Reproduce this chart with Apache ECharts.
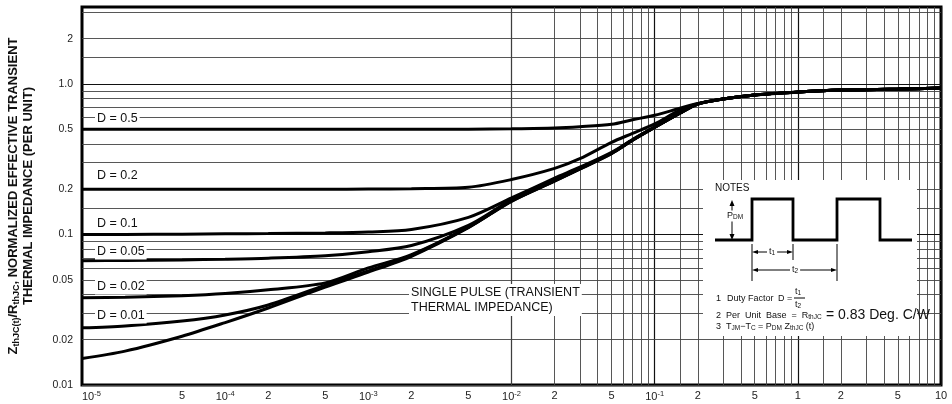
<!DOCTYPE html>
<html><head><meta charset="utf-8">
<script src="https://cdn.jsdelivr.net/npm/echarts@6/dist/echarts.min.js"></script>
<style>html,body{margin:0;padding:0;background:#fff}#c{width:952px;height:404px}</style>
</head><body><div id="c"></div>
<script>
// ---- data ----
const times = [1e-5, 2e-5, 5e-5, 1e-4, 2e-4, 5e-4, 1e-3, 2e-3, 5e-3, 1e-2, 2e-2, 3e-2, 5e-2, 7e-2, 1e-1, 1.5e-1, 2e-1, 3e-1, 5e-1, 1, 2, 5, 10];
const dutyD05  = [0.500, 0.500, 0.500, 0.500, 0.500, 0.500, 0.500, 0.500, 0.501, 0.504, 0.510, 0.520, 0.540, 0.579, 0.620, 0.690, 0.742, 0.797, 0.846, 0.884, 0.912, 0.926, 0.940];
const dutyD02  = [0.200, 0.200, 0.200, 0.200, 0.200, 0.200, 0.2005, 0.2015, 0.206, 0.232, 0.275, 0.319, 0.410, 0.470, 0.544, 0.670, 0.740, 0.796, 0.845, 0.884, 0.912, 0.926, 0.940];
const dutyD01  = [0.1000, 0.1002, 0.1005, 0.1010, 0.1015, 0.1025, 0.1040, 0.1080, 0.130, 0.175, 0.237, 0.280, 0.352, 0.428, 0.518, 0.642, 0.737, 0.795, 0.845, 0.884, 0.912, 0.926, 0.940];
const dutyD005 = [0.0670, 0.0672, 0.0678, 0.0685, 0.0696, 0.0723, 0.0769, 0.0845, 0.115, 0.170, 0.229, 0.275, 0.348, 0.425, 0.517, 0.641, 0.736, 0.794, 0.845, 0.884, 0.912, 0.926, 0.940];
const dutyD002 = [0.0380, 0.0383, 0.0392, 0.0405, 0.0429, 0.0477, 0.0600, 0.0735, 0.112, 0.167, 0.228, 0.274, 0.347, 0.424, 0.516, 0.640, 0.736, 0.794, 0.845, 0.884, 0.912, 0.926, 0.940];
const dutyD001 = [0.0240, 0.0247, 0.0266, 0.0292, 0.0340, 0.0460, 0.0572, 0.0725, 0.112, 0.167, 0.227, 0.273, 0.346, 0.423, 0.515, 0.640, 0.736, 0.794, 0.845, 0.884, 0.912, 0.926, 0.940];
const singlePulse = [0.0150, 0.0168, 0.0211, 0.0260, 0.0325, 0.0448, 0.0562, 0.0717, 0.111, 0.166, 0.226, 0.272, 0.345, 0.423, 0.515, 0.639, 0.735, 0.794, 0.845, 0.884, 0.912, 0.926, 0.940];
const curveNames = ['D = 0.5', 'D = 0.2', 'D = 0.1', 'D = 0.05', 'D = 0.02', 'D = 0.01', 'Single pulse'];

const xTickValues = [1e-5, 5e-5, 1e-4, 2e-4, 5e-4, 1e-3, 2e-3, 5e-3, 1e-2, 2e-2, 5e-2, 1e-1, 2e-1, 5e-1, 1, 2, 5, 10];
const xTickLabels = ['{b|10}{s|-5}', '5', '{b|10}{s|-4}', '2', '5', '{b|10}{s|-3}', '2', '5', '{b|10}{s|-2}', '2', '5', '{b|10}{s|-1}', '2', '5', '1', '2', '5', '10'];
const yTickValues = [0.01, 0.02, 0.05, 0.1, 0.2, 0.5, 1, 2];
const yTickLabels = ['0.01', '0.02', '0.05', '0.1', '0.2', '0.5', '1.0', '2'];
const gridMultipliers = [1, 1.5, 2, 3, 4, 5, 6, 7, 8, 9];

// ---- chart ----
const FONT = '"Liberation Sans", Arial, Helvetica, sans-serif';
const X_MIN = 1e-5, X_MAX = 10, Y_MIN = 0.01, Y_MAX = 3.25;

function fmtTick(values, labels) {
  return function (v) {
    for (let i = 0; i < values.length; i++) {
      if (Math.abs(Math.log10(v) - Math.log10(values[i])) < 1e-6) return labels[i];
    }
    return '';
  };
}

const xGrid = [], yGrid = [];
for (let e = -5; e <= 0; e++) for (const m of gridMultipliers) xGrid.push(m * Math.pow(10, e));
xGrid.push(10);
for (let e = -2; e <= 0; e++) for (const m of gridMultipliers) { const v = m * Math.pow(10, e); if (v <= Y_MAX) yGrid.push(v); }
const gridStyle = (m) => ({ color: m === 1 ? '#111' : '#444', width: m === 1 ? 1.2 : 0.9, type: 'solid' });
const gridLines = [];
xGrid.forEach((v) => { const m = Math.round(v / Math.pow(10, Math.floor(Math.log10(v) + 1e-9)) * 10) / 10; gridLines.push({ xAxis: v, lineStyle: gridStyle(m) }); });
yGrid.forEach((v) => { const m = Math.round(v / Math.pow(10, Math.floor(Math.log10(v) + 1e-9)) * 10) / 10; gridLines.push({ yAxis: v, lineStyle: gridStyle(m) }); });

const curves = [dutyD05, dutyD02, dutyD01, dutyD005, dutyD002, dutyD001, singlePulse];
const curveSeries = curves.map((arr, k) => ({
  name: curveNames[k],
  type: 'line',
  data: times.map((t, i) => [t, arr[i]]),
  showSymbol: false,
  smooth: 0.3,
  z: 3,
  lineStyle: { color: '#000', width: 3 },
  emphasis: { disabled: true }
}));

const txt = (text, x, y, extra) => ({
  type: 'text', x, y, z: 60,
  style: Object.assign({ text, fill: '#111', fontFamily: FONT, fontSize: 9, align: 'left', verticalAlign: 'middle' }, extra || {})
});
const ln = (x1, y1, x2, y2, w) => ({ type: 'line', z: 55, shape: { x1, y1, x2, y2 }, style: { stroke: '#000', lineWidth: w || 1 } });
const tri = (pts) => ({ type: 'polygon', z: 55, shape: { points: pts }, style: { fill: '#000' } });
const subRich = { s: { fontSize: 6.5, verticalAlign: 'bottom', fontFamily: FONT, fill: '#111' }, n: { fontSize: 9, fontFamily: FONT, fill: '#111' } };

const dLabels = [['D = 0.5', 119], ['D = 0.2', 176], ['D = 0.1', 224], ['D = 0.05', 252], ['D = 0.02', 287], ['D = 0.01', 316]];

const graphics = [
  { type: 'rect', z: 50, shape: { x: 703, y: 180, width: 214, height: 156 }, style: { fill: '#fff' } },
  txt('NOTES', 715, 188, { fontSize: 10 }),
  { type: 'polyline', z: 55, shape: { points: [[715, 240], [752, 240], [752, 199], [793, 199], [793, 240], [837, 240], [837, 199], [880, 199], [880, 240], [912, 240]] }, style: { stroke: '#000', lineWidth: 2.8, fill: null } },
  ln(732, 204, 732, 236, 1), tri([[732, 200], [729.5, 206], [734.5, 206]]), tri([[732, 240], [729.5, 234], [734.5, 234]]),
  txt('{n|P}{s|DM}', 726, 216, { rich: subRich, backgroundColor: '#fff', padding: [1, 1] }),
  ln(752, 244, 752, 281), ln(793, 244, 793, 260), ln(837, 244, 837, 281),
  ln(756, 252, 789, 252), tri([[752, 252], [758, 250], [758, 254]]), tri([[793, 252], [787, 250], [787, 254]]),
  ln(756, 270, 833, 270), tri([[752, 270], [758, 268], [758, 272]]), tri([[837, 270], [831, 268], [831, 272]]),
  txt('{n|t}{s|1}', 767, 252, { rich: subRich, backgroundColor: '#fff', padding: [0, 2] }),
  txt('{n|t}{s|2}', 790, 270, { rich: subRich, backgroundColor: '#fff', padding: [0, 2] }),
  txt('1', 716, 299),
  txt('Duty Factor', 727, 299),
  txt('D =', 778, 299),
  txt('{n|t}{s|1}', 795, 292, { rich: subRich }), ln(794, 298, 805, 298, 1), txt('{n|t}{s|2}', 795, 305, { rich: subRich }),
  txt('2', 716, 316),
  txt('{n|Per  Unit  Base  =  R}{s|thJC}', 726, 316, { rich: subRich }),
  txt('= 0.83 Deg. C/W', 826, 315, { fontSize: 14 }),
  txt('3', 716, 327),
  txt('{n|T}{s|JM}{n|\u2212T}{s|C}{n| = P}{s|DM}{n| Z}{s|thJC}{n| (t)}', 726, 327, { rich: subRich }),
  { type: 'text', x: 409, y: 284, z: 60, style: { text: 'SINGLE PULSE (TRANSIENT\nTHERMAL IMPEDANCE)', fill: '#111', fontFamily: FONT, fontSize: 12.5, lineHeight: 15, align: 'left', verticalAlign: 'top', backgroundColor: '#fff', padding: [1, 2] } }
].concat(dLabels.map(([t, y]) => txt(t, 95, y, { fontSize: 12.5, backgroundColor: '#fff', padding: [1, 2] })));

const chart = echarts.init(document.getElementById('c'), null, { renderer: 'canvas' });
chart.setOption({
  animation: false,
  backgroundColor: '#fff',
  grid: { left: 82, right: 11, top: 7, bottom: 19, containLabel: false, outerBoundsMode: 'none', show: true, borderColor: '#000', borderWidth: 3, backgroundColor: 'transparent' },
  xAxis: {
    type: 'log', logBase: 10, min: X_MIN, max: X_MAX,
    axisLine: { show: false }, axisTick: { show: false }, splitLine: { show: false },
    axisLabel: {
      customValues: xTickValues, formatter: fmtTick(xTickValues, xTickLabels), margin: 5, alignMinLabel: 'left',
      color: '#222', fontSize: 11, fontFamily: FONT,
      rich: { b: { fontSize: 11, fontFamily: FONT, color: '#222', lineHeight: 14 }, s: { fontSize: 7.5, fontFamily: FONT, color: '#222', verticalAlign: 'top', lineHeight: 8 } }
    }
  },
  yAxis: {
    type: 'log', logBase: 10, min: Y_MIN, max: Y_MAX,
    axisLine: { show: false }, axisTick: { show: false }, splitLine: { show: false },
    axisLabel: { customValues: yTickValues, formatter: fmtTick(yTickValues, yTickLabels), margin: 9, color: '#222', fontSize: 10.5, fontFamily: FONT },
    name: '{m|Z}{s|thJC(t)}{m|/R}{s|thJC}{m|, NORMALIZED EFFECTIVE TRANSIENT}\n{m|THERMAL IMPEDANCE (PER UNIT)}',
    nameLocation: 'middle', nameRotate: 90, nameGap: 46,
    nameTextStyle: {
      lineHeight: 15, align: 'center',
      rich: {
        m: { fontSize: 13, fontWeight: 'bold', fontFamily: FONT, color: '#111', lineHeight: 15 },
        s: { fontSize: 9, fontWeight: 'bold', fontFamily: FONT, color: '#111', verticalAlign: 'bottom', lineHeight: 15 }
      }
    }
  },
  series: [{
    name: 'grid', type: 'line', data: [], silent: true,
    markLine: { silent: true, symbol: ['none', 'none'], z: 1, label: { show: false }, emphasis: { disabled: true }, data: gridLines }
  }].concat(curveSeries),
  graphic: { elements: graphics }
});
</script></body></html>
